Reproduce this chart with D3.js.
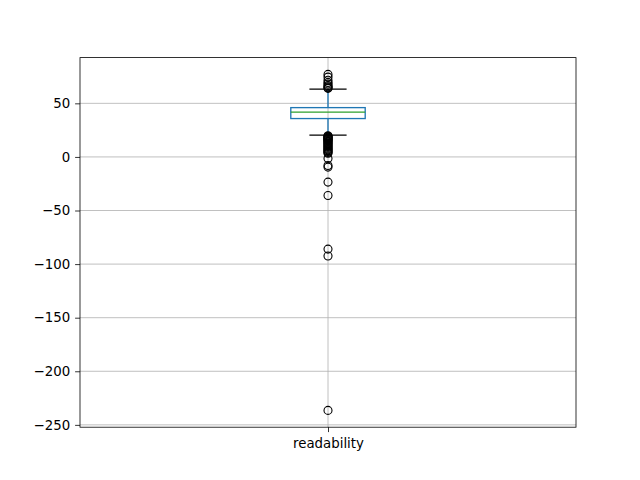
<!DOCTYPE html>
<html>
<head>
<meta charset="utf-8">
<script src="https://cdn.jsdelivr.net/npm/d3@7"></script>
<style>
  body { margin: 0; background: #fff; }
  text { font-family: "DejaVu Sans", sans-serif; }
</style>
</head>
<body>
<div id="container"></div>
<script>
var width = 640,
    height = 480;

// box statistics
var category = "readability";
var quartiles = [35.8, 41.8, 46.0];   // q1, median, q3
var whiskers = [20.3, 63.3];           // low, high
var fliersHigh = [77, 74.5, 71.5, 69.5, 68, 66.5, 65.5, 64.5, 64];
var fliersLow = [19.8, 19.3, 18.8, 18.3, 17.8, 17.3, 16.8, 16.3, 15.8, 15.2, 14.5, 13.8,
                 13, 12.2, 11.4, 10.6, 9.8, 9, 8.2, 7.4, 6.6, 5.8, 5, 4.2, 3.4,
                 -1.5, -8, -9.5, -23.5, -36, -86, -92.5, -236.5];
var yTicks = [50, 0, -50, -100, -150, -200, -250];

var margin = {left: 80, right: 64, top: 57.6, bottom: 52.8};
var plotW = width - margin.left - margin.right,
    plotH = height - margin.top - margin.bottom;

var svg = d3.select("#container").append("svg")
  .attr("width", width)
  .attr("height", height);

var g = svg.append("g")
  .attr("transform", "translate(" + margin.left + "," + margin.top + ")");

var allVals = fliersHigh.concat(fliersLow, whiskers);
var lo = d3.min(allVals), hi = d3.max(allVals), pad = (hi - lo) * 0.05;

var y = d3.scaleLinear()
  .domain([lo - pad, hi + pad])
  .range([plotH, 0]);

// single category sits in the middle (matplotlib positions 0.5..1.5)
var x = d3.scaleLinear()
  .domain([0.5, 1.5])
  .range([0, plotW]);

var fmt = function(d) { return d < 0 ? "\u2212" + Math.abs(d) : String(d); };

// grid lines
g.append("g")
  .selectAll("line")
  .data(yTicks)
  .enter().append("line")
  .attr("x1", 0).attr("x2", plotW)
  .attr("y1", function(d) { return y(d); })
  .attr("y2", function(d) { return y(d); })
  .attr("stroke", "#b0b0b0")
  .attr("stroke-width", 0.8);

g.append("line")
  .attr("x1", x(1)).attr("x2", x(1))
  .attr("y1", 0).attr("y2", plotH)
  .attr("stroke", "#b0b0b0")
  .attr("stroke-width", 0.8);

var cx = x(1),
    boxHalf = (x(1.075) - x(0.925)) / 2,
    capHalf = boxHalf / 2;

// whiskers
g.selectAll(".whisker")
  .data([[quartiles[0], whiskers[0]], [quartiles[2], whiskers[1]]])
  .enter().append("line")
  .attr("x1", cx).attr("x2", cx)
  .attr("y1", function(d) { return y(d[0]); })
  .attr("y2", function(d) { return y(d[1]); })
  .attr("stroke", "#1f77b4")
  .attr("stroke-width", 1.33);

// caps
g.selectAll(".cap")
  .data(whiskers)
  .enter().append("line")
  .attr("x1", cx - capHalf).attr("x2", cx + capHalf)
  .attr("y1", function(d) { return y(d); })
  .attr("y2", function(d) { return y(d); })
  .attr("stroke", "#000")
  .attr("stroke-width", 1.33);

// box
g.append("rect")
  .attr("x", cx - boxHalf)
  .attr("width", boxHalf * 2)
  .attr("y", y(quartiles[2]))
  .attr("height", y(quartiles[0]) - y(quartiles[2]))
  .attr("fill", "none")
  .attr("stroke", "#1f77b4")
  .attr("stroke-width", 1.33);

// median
g.append("line")
  .attr("x1", cx - boxHalf).attr("x2", cx + boxHalf)
  .attr("y1", y(quartiles[1])).attr("y2", y(quartiles[1]))
  .attr("stroke", "#2ca02c")
  .attr("stroke-width", 1.33);

// fliers
g.selectAll(".flier")
  .data(fliersHigh.concat(fliersLow))
  .enter().append("circle")
  .attr("cx", cx)
  .attr("cy", function(d) { return y(d); })
  .attr("r", 4)
  .attr("fill", "none")
  .attr("stroke", "#000")
  .attr("stroke-width", 1.1);

// axes
var yAxis = d3.axisLeft(y).tickValues(yTicks).tickFormat(fmt).tickSize(4.9).tickPadding(4.9);
var yg = g.append("g").call(yAxis);
yg.select(".domain").remove();
yg.selectAll("line").attr("stroke", "#000").attr("stroke-width", 0.8);
yg.selectAll("text").attr("font-size", "13.33px").attr("fill", "#000")
  .style("font-family", "DejaVu Sans, sans-serif");

var xAxis = d3.axisBottom(x).tickValues([1]).tickFormat(function() { return category; })
  .tickSize(4.9).tickPadding(6);
var xg = g.append("g").attr("transform", "translate(0," + plotH + ")").call(xAxis);
xg.select(".domain").remove();
xg.selectAll("line").attr("stroke", "#000").attr("stroke-width", 0.8);
xg.selectAll("text").attr("font-size", "13.33px").attr("fill", "#000")
  .style("font-family", "DejaVu Sans, sans-serif");

// frame
g.append("rect")
  .attr("width", plotW).attr("height", plotH)
  .attr("fill", "none")
  .attr("stroke", "#000")
  .attr("stroke-width", 0.8);
</script>
</body>
</html>
